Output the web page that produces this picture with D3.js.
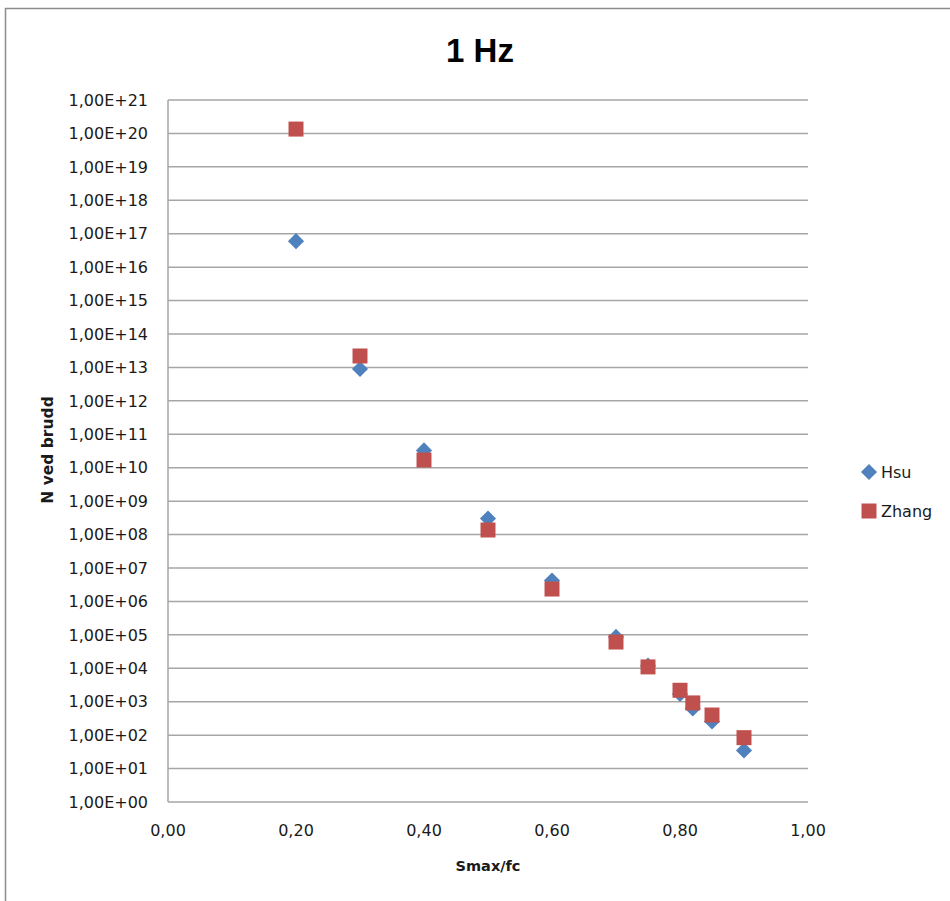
<!DOCTYPE html>
<html>
<head>
<meta charset="utf-8">
<script src="https://cdn.jsdelivr.net/npm/d3@7"></script>
<style>
  body { margin: 0; background: #fff; }
  svg { display: block; font-family: "DejaVu Sans", sans-serif; }
  .grid line { stroke: #a6a6a6; stroke-width: 1.5; }
  .tick-label { font-size: 16px; fill: #1a1a1a; }
</style>
</head>
<body>
<svg class="main" width="950" height="901"></svg>
<script>
const xValues = [0.2, 0.3, 0.4, 0.5, 0.6, 0.7, 0.75, 0.8, 0.82, 0.85, 0.9];
const hsu = [6e16, 9e12, 3.3e10, 3.0e8, 4.2e6, 8.7e4, 1.2e4, 1.7e3, 630, 257, 35];
const zhang = [1.35e20, 2.2e13, 1.7e10, 1.37e8, 2.35e6, 6.1e4, 1.1e4, 2.2e3, 920, 400, 84];
const yTickExps = d3.range(0, 22);
const xTicks = [0, 0.2, 0.4, 0.6, 0.8, 1.0];
const seriesNames = ["Hsu", "Zhang"];
const colors = { Hsu: "#4f81bd", Zhang: "#c0504d" };

const svg = d3.select(".main");

// outer chart frame (runs off the right and bottom edges)
svg.append("rect")
  .attr("x", 5.5).attr("y", 8.5)
  .attr("width", 1000).attr("height", 1000)
  .attr("fill", "none").attr("stroke", "#8c8c8c").attr("stroke-width", 1.5);

const x = d3.scaleLinear().domain([0, 1]).range([168, 808]);
const y = d3.scaleLog().domain([1, 1e21]).range([802, 100]);

// horizontal gridlines
svg.append("g").attr("class", "grid")
  .selectAll("line")
  .data(yTickExps)
  .join("line")
  .attr("x1", x(0)).attr("x2", x(1))
  .attr("y1", d => y(Math.pow(10, d)))
  .attr("y2", d => y(Math.pow(10, d)));

// left axis line
svg.append("line")
  .attr("x1", x(0)).attr("x2", x(0))
  .attr("y1", y(1e21)).attr("y2", y(1))
  .attr("stroke", "#a6a6a6").attr("stroke-width", 1.5);

const pad = n => (n < 10 ? "0" : "") + n;

svg.append("g")
  .selectAll("text")
  .data(yTickExps)
  .join("text")
  .attr("class", "tick-label")
  .attr("x", 148)
  .attr("y", d => y(Math.pow(10, d)))
  .attr("dy", "0.36em")
  .attr("text-anchor", "end")
  .text(d => "1,00E+" + pad(d));

svg.append("g")
  .selectAll("text")
  .data(xTicks)
  .join("text")
  .attr("class", "tick-label")
  .attr("x", d => x(d))
  .attr("y", 830)
  .attr("dy", "0.36em")
  .attr("text-anchor", "middle")
  .text(d => d3.format(".2f")(d).replace(".", ","));

// titles
svg.append("text")
  .attr("x", 480).attr("y", 62)
  .attr("text-anchor", "middle")
  .attr("font-family", "Liberation Sans, Arial, sans-serif")
  .attr("font-weight", "bold")
  .attr("font-size", 33)
  .attr("fill", "#000")
  .text("1 Hz");

svg.append("text")
  .attr("x", x(0.5)).attr("y", 866)
  .attr("dy", "0.36em")
  .attr("text-anchor", "middle")
  .attr("font-weight", "bold")
  .attr("font-size", 14.5)
  .attr("fill", "#1a1a1a")
  .text("Smax/fc");

svg.append("text")
  .attr("transform", "translate(47,450) rotate(-90)")
  .attr("dy", "0.36em")
  .attr("text-anchor", "middle")
  .attr("font-weight", "bold")
  .attr("font-size", 15.5)
  .attr("fill", "#1a1a1a")
  .text("N ved brudd");

// markers
const diamond = d3.symbol().type(d3.symbolDiamond2).size(165);
const square = d3.symbol().type(d3.symbolSquare).size(225);

svg.append("g")
  .selectAll("path")
  .data(xValues.map((v, i) => [v, hsu[i]]))
  .join("path")
  .attr("d", diamond)
  .attr("transform", d => `translate(${x(d[0])},${y(d[1])})`)
  .attr("fill", colors.Hsu);

svg.append("g")
  .selectAll("path")
  .data(xValues.map((v, i) => [v, zhang[i]]))
  .join("path")
  .attr("d", square)
  .attr("transform", d => `translate(${x(d[0])},${y(d[1])})`)
  .attr("fill", colors.Zhang);

// legend
const legend = svg.append("g")
  .selectAll("g")
  .data(seriesNames)
  .join("g")
  .attr("transform", (d, i) => `translate(869,${472 + i * 39})`);

legend.append("path")
  .attr("d", d => (d === "Hsu" ? diamond : square)())
  .attr("fill", d => colors[d]);

legend.append("text")
  .attr("x", 12)
  .attr("dy", "0.36em")
  .attr("font-size", 16)
  .attr("fill", "#1a1a1a")
  .text(d => d);
</script>
</body>
</html>
